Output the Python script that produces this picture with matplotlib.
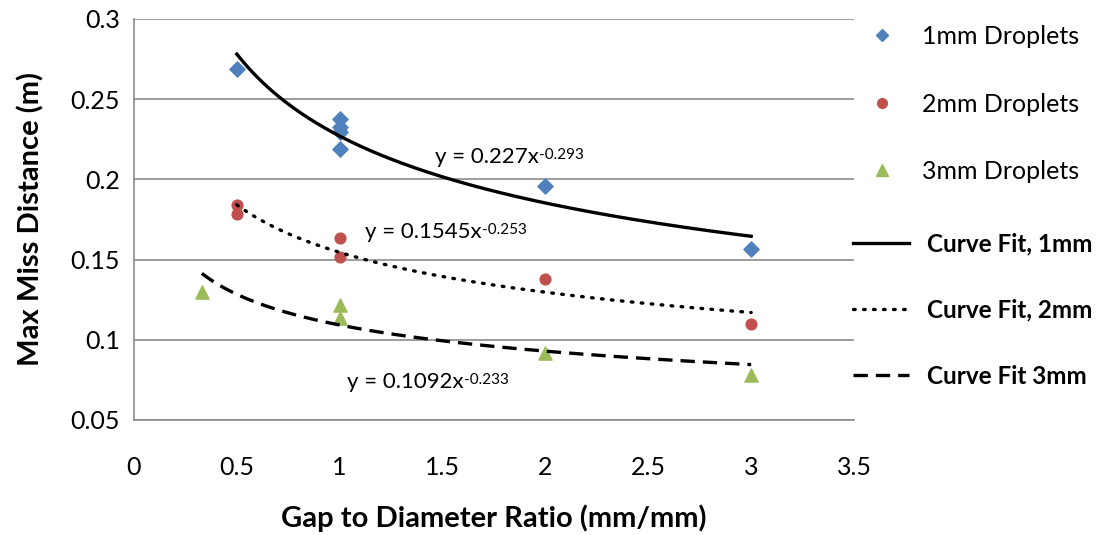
import numpy as np
import matplotlib
matplotlib.use("Agg")
import matplotlib.pyplot as plt
from matplotlib.lines import Line2D

plt.rcParams['font.family'] = ['Lato', 'DejaVu Sans']

# data
x_1mm = [0.5, 1, 1, 1, 1, 2, 3]
y_1mm = [0.269, 0.2377, 0.2325, 0.2294, 0.2191, 0.1957, 0.1565]
x_2mm = [0.5, 0.5, 1, 1, 2, 3]
y_2mm = [0.1839, 0.1787, 0.1635, 0.1514, 0.1377, 0.1099]
x_3mm = [0.33, 1, 1, 2, 3]
y_3mm = [0.1300, 0.1217, 0.1135, 0.0917, 0.0783]

# power-law trendlines (y = a * x^b) as printed on the chart
fit_a = [0.227, 0.1545, 0.1092]
fit_b = [-0.293, -0.253, -0.233]
eq_base = ["y = 0.227x", "y = 0.1545x", "y = 0.1092x"]
eq_sup = ["-0.293", "-0.253", "-0.233"]
eq_pos = [(1.463, 0.2142), (1.123, 0.1674), (1.035, 0.0739)]

xticks = [0, 0.5, 1, 1.5, 2, 2.5, 3, 3.5]
yticks = [0.05, 0.1, 0.15, 0.2, 0.25, 0.3]

blue = '#4F81BD'
red = '#C0504D'
green = '#9BBB59'
grid_gray = '#8C8C8C'

fig = plt.figure(figsize=(10.99, 5.35), dpi=100)
ax = fig.add_axes([0.1219, 0.2150, 0.6552, 0.7495])

ax.scatter(x_1mm, y_1mm, marker='D', s=60, color=blue, zorder=3)
ax.scatter(x_2mm, y_2mm, marker='o', s=60, color=red, zorder=3)
ax.scatter(x_3mm, y_3mm, marker='^', s=90, color=green, zorder=3)

styles = [dict(linestyle='-'),
          dict(linestyle=(0, (0.5, 2.5)), dash_capstyle='round'),
          dict(linestyle=(0, (4.3, 2.4)))]
xs_all = [x_1mm, x_2mm, x_3mm]
for a, b, xs, st in zip(fit_a, fit_b, xs_all, styles):
    xx = np.linspace(min(xs), max(xs), 200)
    ax.plot(xx, a * xx ** b, color='black', lw=2.4, zorder=4, **st)

for base, sup, (ex, ey) in zip(eq_base, eq_sup, eq_pos):
    t = ax.text(ex, ey, base, fontsize=16, va='center', ha='left')
    ax.annotate(sup, xy=(1, 0.92), xycoords=t, fontsize=11, va='top', ha='left')

ax.set_xlim(0, 3.5)
ax.set_ylim(0.05, 0.3)
ax.set_xticks(xticks)
ax.set_xticklabels([f"{t:g}" for t in xticks])
ax.set_yticks(yticks)
ax.set_yticklabels([f"{t:g}" for t in yticks])
ax.tick_params(length=0, labelsize=18, pad=10)
ax.tick_params(axis='x', pad=26)
ax.grid(axis='y', color=grid_gray, lw=1.2)
ax.set_axisbelow(True)
for s in ['top', 'right']:
    ax.spines[s].set_visible(False)
for s in ['left', 'bottom']:
    ax.spines[s].set_color(grid_gray)
    ax.spines[s].set_linewidth(1.2)

ax.set_xlabel("Gap to Diameter Ratio (mm/mm)", fontsize=21, fontweight='bold', labelpad=18)
ax.set_ylabel("Max Miss Distance (m)", fontsize=21, fontweight='bold', labelpad=19)

marker_handles = [
    Line2D([], [], ls='none', marker='D', ms=6, color=blue),
    Line2D([], [], ls='none', marker='o', ms=7, color=red),
    Line2D([], [], ls='none', marker='^', ms=8, color=green),
]
marker_labels = ["1mm Droplets", "2mm Droplets", "3mm Droplets"]
line_handles = [Line2D([], [], color='black', lw=2.4, **st) for st in styles]
line_labels = ["Curve Fit, 1mm", "Curve Fit, 2mm", "Curve Fit 3mm"]

leg1 = fig.legend(marker_handles, marker_labels, loc='upper left',
                  bbox_to_anchor=(0.782, 0.953), frameon=False, fontsize=18,
                  handlelength=1.8, handletextpad=0.7, labelspacing=1.78,
                  borderaxespad=0, borderpad=0)
leg2 = fig.legend(line_handles, line_labels, loc='upper left',
                  bbox_to_anchor=(0.776, 0.566), frameon=False, fontsize=17.5,
                  handlelength=2.3, handletextpad=0.75, labelspacing=1.78,
                  borderaxespad=0, borderpad=0)
for t in leg2.get_texts():
    t.set_fontweight('bold')

fig.savefig("out.png", dpi=100)
